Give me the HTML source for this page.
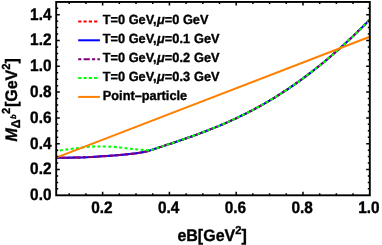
<!DOCTYPE html>
<html><head><meta charset="utf-8"><title>plot</title>
<style>
html,body{margin:0;padding:0;background:#fff;}
body{width:382px;height:245px;overflow:hidden;}
svg{display:block;will-change:transform;text-rendering:geometricPrecision;font-family:"Liberation Sans",sans-serif;font-weight:bold;fill:#000;}
text{stroke:#000;stroke-width:0.35px;stroke-linejoin:round;}
</style></head><body>
<svg width="382" height="245" viewBox="0 0 382 245">
<rect width="382" height="245" fill="#fff"/>
<g fill="none" stroke-width="2" stroke-linejoin="round">
<path d="M56.20 157.80C59.33 157.77 69.03 157.75 75.00 157.60C80.97 157.45 86.17 157.20 92.00 156.90C97.83 156.60 104.00 156.25 110.00 155.80C116.00 155.35 123.33 154.65 128.00 154.20C132.67 153.75 135.17 153.50 138.00 153.10C140.83 152.70 143.00 152.24 145.00 151.80C147.00 151.36 148.33 150.96 150.00 150.47C151.67 149.97 153.33 149.36 155.00 148.81C156.67 148.26 158.33 147.71 160.00 147.16C161.67 146.61 163.33 146.06 165.00 145.51C166.67 144.96 168.33 144.41 170.00 143.85C171.67 143.30 173.33 142.74 175.00 142.18C176.67 141.62 178.33 141.05 180.00 140.48C181.67 139.92 183.33 139.34 185.00 138.76C186.67 138.18 188.33 137.60 190.00 137.01C191.67 136.42 193.33 135.82 195.00 135.21C196.67 134.61 198.33 133.99 200.00 133.37C201.67 132.75 203.33 132.12 205.00 131.48C206.67 130.84 208.33 130.20 210.00 129.54C211.67 128.88 213.33 128.21 215.00 127.53C216.67 126.85 218.33 126.16 220.00 125.46C221.67 124.76 223.33 124.05 225.00 123.32C226.67 122.60 228.33 121.86 230.00 121.11C231.67 120.36 233.33 119.59 235.00 118.82C236.67 118.04 238.33 117.25 240.00 116.44C241.67 115.64 243.33 114.82 245.00 113.99C246.67 113.15 248.33 112.31 250.00 111.44C251.67 110.58 253.33 109.70 255.00 108.81C256.67 107.91 258.33 107.00 260.00 106.08C261.67 105.15 263.33 104.21 265.00 103.25C266.67 102.29 268.33 101.32 270.00 100.32C271.67 99.33 273.33 98.32 275.00 97.30C276.67 96.27 278.33 95.23 280.00 94.17C281.67 93.11 283.33 92.03 285.00 90.93C286.67 89.84 288.33 88.73 290.00 87.59C291.67 86.46 293.33 85.31 295.00 84.15C296.67 82.98 298.33 81.79 300.00 80.59C301.67 79.39 303.33 78.16 305.00 76.92C306.67 75.68 308.33 74.42 310.00 73.15C311.67 71.87 313.33 70.58 315.00 69.26C316.67 67.95 318.33 66.62 320.00 65.27C321.67 63.92 323.33 62.55 325.00 61.16C326.67 59.77 328.33 58.37 330.00 56.94C331.67 55.52 333.33 54.08 335.00 52.62C336.67 51.16 338.33 49.68 340.00 48.19C341.67 46.69 343.33 45.18 345.00 43.64C346.67 42.11 348.33 40.56 350.00 39.00C351.67 37.43 353.33 35.85 355.00 34.25C356.67 32.64 358.33 31.03 360.00 29.39C361.67 27.76 363.37 26.07 365.00 24.43C366.63 22.80 369.00 20.39 369.80 19.58" stroke="#ff0000" stroke-dasharray="3.2 2.1"/>
<path d="M56.20 157.80C59.33 157.77 69.03 157.75 75.00 157.60C80.97 157.45 86.17 157.20 92.00 156.90C97.83 156.60 104.00 156.25 110.00 155.80C116.00 155.35 123.33 154.65 128.00 154.20C132.67 153.75 135.17 153.50 138.00 153.10C140.83 152.70 143.00 152.24 145.00 151.80C147.00 151.36 148.33 150.96 150.00 150.47C151.67 149.97 153.33 149.36 155.00 148.81C156.67 148.26 158.33 147.71 160.00 147.16C161.67 146.61 163.33 146.06 165.00 145.51C166.67 144.96 168.33 144.41 170.00 143.85C171.67 143.30 173.33 142.74 175.00 142.18C176.67 141.62 178.33 141.05 180.00 140.48C181.67 139.92 183.33 139.34 185.00 138.76C186.67 138.18 188.33 137.60 190.00 137.01C191.67 136.42 193.33 135.82 195.00 135.21C196.67 134.61 198.33 133.99 200.00 133.37C201.67 132.75 203.33 132.12 205.00 131.48C206.67 130.84 208.33 130.20 210.00 129.54C211.67 128.88 213.33 128.21 215.00 127.53C216.67 126.85 218.33 126.16 220.00 125.46C221.67 124.76 223.33 124.05 225.00 123.32C226.67 122.60 228.33 121.86 230.00 121.11C231.67 120.36 233.33 119.59 235.00 118.82C236.67 118.04 238.33 117.25 240.00 116.44C241.67 115.64 243.33 114.82 245.00 113.99C246.67 113.15 248.33 112.31 250.00 111.44C251.67 110.58 253.33 109.70 255.00 108.81C256.67 107.91 258.33 107.00 260.00 106.08C261.67 105.15 263.33 104.21 265.00 103.25C266.67 102.29 268.33 101.32 270.00 100.32C271.67 99.33 273.33 98.32 275.00 97.30C276.67 96.27 278.33 95.23 280.00 94.17C281.67 93.11 283.33 92.03 285.00 90.93C286.67 89.84 288.33 88.73 290.00 87.59C291.67 86.46 293.33 85.31 295.00 84.15C296.67 82.98 298.33 81.79 300.00 80.59C301.67 79.39 303.33 78.16 305.00 76.92C306.67 75.68 308.33 74.42 310.00 73.15C311.67 71.87 313.33 70.58 315.00 69.26C316.67 67.95 318.33 66.62 320.00 65.27C321.67 63.92 323.33 62.55 325.00 61.16C326.67 59.77 328.33 58.37 330.00 56.94C331.67 55.52 333.33 54.08 335.00 52.62C336.67 51.16 338.33 49.68 340.00 48.19C341.67 46.69 343.33 45.18 345.00 43.64C346.67 42.11 348.33 40.56 350.00 39.00C351.67 37.43 353.33 35.85 355.00 34.25C356.67 32.64 358.33 31.03 360.00 29.39C361.67 27.76 363.37 26.07 365.00 24.43C366.63 22.80 369.00 20.39 369.80 19.58" stroke="#0000ff"/>
<path d="M56.20 157.80C59.33 157.77 69.03 157.75 75.00 157.60C80.97 157.45 86.17 157.20 92.00 156.90C97.83 156.60 104.00 156.25 110.00 155.80C116.00 155.35 123.33 154.65 128.00 154.20C132.67 153.75 135.17 153.50 138.00 153.10C140.83 152.70 143.00 152.24 145.00 151.80C147.00 151.36 148.33 150.96 150.00 150.47C151.67 149.97 153.33 149.36 155.00 148.81C156.67 148.26 158.33 147.71 160.00 147.16C161.67 146.61 163.33 146.06 165.00 145.51C166.67 144.96 168.33 144.41 170.00 143.85C171.67 143.30 173.33 142.74 175.00 142.18C176.67 141.62 178.33 141.05 180.00 140.48C181.67 139.92 183.33 139.34 185.00 138.76C186.67 138.18 188.33 137.60 190.00 137.01C191.67 136.42 193.33 135.82 195.00 135.21C196.67 134.61 198.33 133.99 200.00 133.37C201.67 132.75 203.33 132.12 205.00 131.48C206.67 130.84 208.33 130.20 210.00 129.54C211.67 128.88 213.33 128.21 215.00 127.53C216.67 126.85 218.33 126.16 220.00 125.46C221.67 124.76 223.33 124.05 225.00 123.32C226.67 122.60 228.33 121.86 230.00 121.11C231.67 120.36 233.33 119.59 235.00 118.82C236.67 118.04 238.33 117.25 240.00 116.44C241.67 115.64 243.33 114.82 245.00 113.99C246.67 113.15 248.33 112.31 250.00 111.44C251.67 110.58 253.33 109.70 255.00 108.81C256.67 107.91 258.33 107.00 260.00 106.08C261.67 105.15 263.33 104.21 265.00 103.25C266.67 102.29 268.33 101.32 270.00 100.32C271.67 99.33 273.33 98.32 275.00 97.30C276.67 96.27 278.33 95.23 280.00 94.17C281.67 93.11 283.33 92.03 285.00 90.93C286.67 89.84 288.33 88.73 290.00 87.59C291.67 86.46 293.33 85.31 295.00 84.15C296.67 82.98 298.33 81.79 300.00 80.59C301.67 79.39 303.33 78.16 305.00 76.92C306.67 75.68 308.33 74.42 310.00 73.15C311.67 71.87 313.33 70.58 315.00 69.26C316.67 67.95 318.33 66.62 320.00 65.27C321.67 63.92 323.33 62.55 325.00 61.16C326.67 59.77 328.33 58.37 330.00 56.94C331.67 55.52 333.33 54.08 335.00 52.62C336.67 51.16 338.33 49.68 340.00 48.19C341.67 46.69 343.33 45.18 345.00 43.64C346.67 42.11 348.33 40.56 350.00 39.00C351.67 37.43 353.33 35.85 355.00 34.25C356.67 32.64 358.33 31.03 360.00 29.39C361.67 27.76 363.37 26.07 365.00 24.43C366.63 22.80 369.00 20.39 369.80 19.58" stroke="#800080" stroke-dasharray="3.2 2.2 6.2 2.2" stroke-dashoffset="1.2"/>
<path d="M56.20 151.00C59.33 150.57 69.03 149.13 75.00 148.40C80.97 147.67 87.83 146.92 92.00 146.60C96.17 146.28 96.83 146.48 100.00 146.50C103.17 146.52 107.67 146.53 111.00 146.70C114.33 146.87 117.17 147.20 120.00 147.50C122.83 147.80 125.67 148.22 128.00 148.50C130.33 148.78 132.00 149.00 134.00 149.20C136.00 149.40 138.00 149.57 140.00 149.70C142.00 149.83 144.33 149.87 146.00 150.00C147.67 150.13 149.33 150.39 150.00 150.47C150.83 150.19 153.33 149.36 155.00 148.81C156.67 148.26 158.33 147.71 160.00 147.16C161.67 146.61 163.33 146.06 165.00 145.51C166.67 144.96 168.33 144.41 170.00 143.85C171.67 143.30 173.33 142.74 175.00 142.18C176.67 141.62 178.33 141.05 180.00 140.48C181.67 139.92 183.33 139.34 185.00 138.76C186.67 138.18 188.33 137.60 190.00 137.01C191.67 136.42 193.33 135.82 195.00 135.21C196.67 134.61 198.33 133.99 200.00 133.37C201.67 132.75 203.33 132.12 205.00 131.48C206.67 130.84 208.33 130.20 210.00 129.54C211.67 128.88 213.33 128.21 215.00 127.53C216.67 126.85 218.33 126.16 220.00 125.46C221.67 124.76 223.33 124.05 225.00 123.32C226.67 122.60 228.33 121.86 230.00 121.11C231.67 120.36 233.33 119.59 235.00 118.82C236.67 118.04 238.33 117.25 240.00 116.44C241.67 115.64 243.33 114.82 245.00 113.99C246.67 113.15 248.33 112.31 250.00 111.44C251.67 110.58 253.33 109.70 255.00 108.81C256.67 107.91 258.33 107.00 260.00 106.08C261.67 105.15 263.33 104.21 265.00 103.25C266.67 102.29 268.33 101.32 270.00 100.32C271.67 99.33 273.33 98.32 275.00 97.30C276.67 96.27 278.33 95.23 280.00 94.17C281.67 93.11 283.33 92.03 285.00 90.93C286.67 89.84 288.33 88.73 290.00 87.59C291.67 86.46 293.33 85.31 295.00 84.15C296.67 82.98 298.33 81.79 300.00 80.59C301.67 79.39 303.33 78.16 305.00 76.92C306.67 75.68 308.33 74.42 310.00 73.15C311.67 71.87 313.33 70.58 315.00 69.26C316.67 67.95 318.33 66.62 320.00 65.27C321.67 63.92 323.33 62.55 325.00 61.16C326.67 59.77 328.33 58.37 330.00 56.94C331.67 55.52 333.33 54.08 335.00 52.62C336.67 51.16 338.33 49.68 340.00 48.19C341.67 46.69 343.33 45.18 345.00 43.64C346.67 42.11 348.33 40.56 350.00 39.00C351.67 37.43 353.33 35.85 355.00 34.25C356.67 32.64 358.33 31.03 360.00 29.39C361.67 27.76 363.37 26.07 365.00 24.43C366.63 22.80 369.00 20.39 369.80 19.58" stroke="#00ff00" stroke-width="2.1" stroke-dasharray="2.95 2.45" stroke-dashoffset="1.6"/>
<path d="M56.2 157.6L369.8 36.7" stroke="#ff8000"/>
</g>
<path d="M56.20 188.85h2.0M369.80 188.85h-2.0M56.20 182.40h2.0M369.80 182.40h-2.0M56.20 175.95h2.0M369.80 175.95h-2.0M56.20 169.50h3.6M369.80 169.50h-3.6M56.20 163.05h2.0M369.80 163.05h-2.0M56.20 156.60h2.0M369.80 156.60h-2.0M56.20 150.15h2.0M369.80 150.15h-2.0M56.20 143.70h3.6M369.80 143.70h-3.6M56.20 137.25h2.0M369.80 137.25h-2.0M56.20 130.80h2.0M369.80 130.80h-2.0M56.20 124.35h2.0M369.80 124.35h-2.0M56.20 117.90h3.6M369.80 117.90h-3.6M56.20 111.45h2.0M369.80 111.45h-2.0M56.20 105.00h2.0M369.80 105.00h-2.0M56.20 98.55h2.0M369.80 98.55h-2.0M56.20 92.10h3.6M369.80 92.10h-3.6M56.20 85.65h2.0M369.80 85.65h-2.0M56.20 79.20h2.0M369.80 79.20h-2.0M56.20 72.75h2.0M369.80 72.75h-2.0M56.20 66.30h3.6M369.80 66.30h-3.6M56.20 59.85h2.0M369.80 59.85h-2.0M56.20 53.40h2.0M369.80 53.40h-2.0M56.20 46.95h2.0M369.80 46.95h-2.0M56.20 40.50h3.6M369.80 40.50h-3.6M56.20 34.05h2.0M369.80 34.05h-2.0M56.20 27.60h2.0M369.80 27.60h-2.0M56.20 21.15h2.0M369.80 21.15h-2.0M56.20 14.70h3.6M369.80 14.70h-3.6M56.20 8.25h2.0M369.80 8.25h-2.0M69.24 195.30v-2.0M69.24 1.95v2.0M85.94 195.30v-2.0M85.94 1.95v2.0M102.63 195.30v-3.6M102.63 1.95v3.6M119.33 195.30v-2.0M119.33 1.95v2.0M136.02 195.30v-2.0M136.02 1.95v2.0M152.72 195.30v-2.0M152.72 1.95v2.0M169.41 195.30v-3.6M169.41 1.95v3.6M186.10 195.30v-2.0M186.10 1.95v2.0M202.80 195.30v-2.0M202.80 1.95v2.0M219.50 195.30v-2.0M219.50 1.95v2.0M236.19 195.30v-3.6M236.19 1.95v3.6M252.89 195.30v-2.0M252.89 1.95v2.0M269.58 195.30v-2.0M269.58 1.95v2.0M286.27 195.30v-2.0M286.27 1.95v2.0M302.97 195.30v-3.6M302.97 1.95v3.6M319.67 195.30v-2.0M319.67 1.95v2.0M336.36 195.30v-2.0M336.36 1.95v2.0M353.06 195.30v-2.0M353.06 1.95v2.0" stroke="#000" stroke-width="1.5" fill="none"/>
<rect x="56.2" y="1.95" width="313.60" height="193.35" fill="none" stroke="#000" stroke-width="1.9"/>
<path d="M78.2 21.4H98.6" stroke="#ff0000" stroke-width="2" stroke-dasharray="3.2 2.1" fill="none"/>
<text transform="translate(102.80 24.00) scale(1 1.04)" font-size="12.75">T=0 GeV,<tspan font-style="italic" dx="0.4">μ</tspan><tspan dx="0.2">=0 GeV</tspan></text>
<path d="M78.2 40.3H99.9" stroke="#0000ff" stroke-width="2" fill="none"/>
<text transform="translate(102.80 42.90) scale(1 1.04)" font-size="12.75">T=0 GeV,<tspan font-style="italic" dx="0.4">μ</tspan><tspan dx="0.2">=0.1</tspan><tspan dx="0.4"> GeV</tspan></text>
<path d="M78.2 59.2H99.9" stroke="#800080" stroke-width="2" stroke-dasharray="3.2 2.2 6.2 2.2" fill="none"/>
<text transform="translate(102.80 61.80) scale(1 1.04)" font-size="12.75">T=0 GeV,<tspan font-style="italic" dx="0.4">μ</tspan><tspan dx="0.2">=0.2</tspan><tspan dx="0.4"> GeV</tspan></text>
<path d="M78.2 78.0H98.6" stroke="#00ff00" stroke-width="2" stroke-dasharray="3.2 2.1" fill="none"/>
<text transform="translate(102.80 80.60) scale(1 1.04)" font-size="12.75">T=0 GeV,<tspan font-style="italic" dx="0.4">μ</tspan><tspan dx="0.2">=0.3</tspan><tspan dx="0.4"> GeV</tspan></text>
<path d="M78.2 96.9H99.9" stroke="#ff8000" stroke-width="2" fill="none"/>
<text transform="translate(102.80 99.50) scale(1 1.04)" font-size="12.75">Point–particle</text>
<text transform="translate(51.50 200.20) scale(1 1.08)" font-size="15.4" text-anchor="end">0.0</text>
<text transform="translate(51.50 174.40) scale(1 1.08)" font-size="15.4" text-anchor="end">0.2</text>
<text transform="translate(51.50 148.60) scale(1 1.08)" font-size="15.4" text-anchor="end">0.4</text>
<text transform="translate(51.50 122.80) scale(1 1.08)" font-size="15.4" text-anchor="end">0.6</text>
<text transform="translate(51.50 97.00) scale(1 1.08)" font-size="15.4" text-anchor="end">0.8</text>
<text transform="translate(51.50 71.20) scale(1 1.08)" font-size="15.4" text-anchor="end">1.0</text>
<text transform="translate(51.50 45.40) scale(1 1.08)" font-size="15.4" text-anchor="end">1.2</text>
<text transform="translate(51.50 19.60) scale(1 1.08)" font-size="15.4" text-anchor="end">1.4</text>
<text transform="translate(101.83 212.50) scale(1 1.08)" font-size="15.4" text-anchor="middle">0.2</text>
<text transform="translate(168.61 212.50) scale(1 1.08)" font-size="15.4" text-anchor="middle">0.4</text>
<text transform="translate(235.39 212.50) scale(1 1.08)" font-size="15.4" text-anchor="middle">0.6</text>
<text transform="translate(302.17 212.50) scale(1 1.08)" font-size="15.4" text-anchor="middle">0.8</text>
<text transform="translate(368.95 212.50) scale(1 1.08)" font-size="15.4" text-anchor="middle">1.0</text>

<text transform="translate(177.40 240.80) scale(1 1.04)" font-size="16">eB[GeV<tspan font-size="11.2" dy="-7">2</tspan><tspan dy="7">]</tspan></text>

<g transform="translate(16.7 140.7) rotate(-90)">
<text transform="translate(-0.80 0.00) scale(1 1.04)" font-size="16" font-style="italic">M</text>
<text transform="translate(12.40 2.90) scale(1 1.04)" font-size="12.2">Δ</text>
<text transform="translate(21.70 -1.10) scale(1 1.04)" font-size="7.4" font-style="italic">b</text>
<text transform="translate(26.80 -6.90) scale(1 1.04)" font-size="11.2">2</text>
<text transform="translate(33.60 0.00) scale(1 1.04)" font-size="16">[GeV</text>
<text transform="translate(70.90 -7.00) scale(1 1.04)" font-size="11.2">2</text>
<text transform="translate(77.20 0.00) scale(1 1.04)" font-size="16">]</text>
</g>
</svg>
</body></html>
